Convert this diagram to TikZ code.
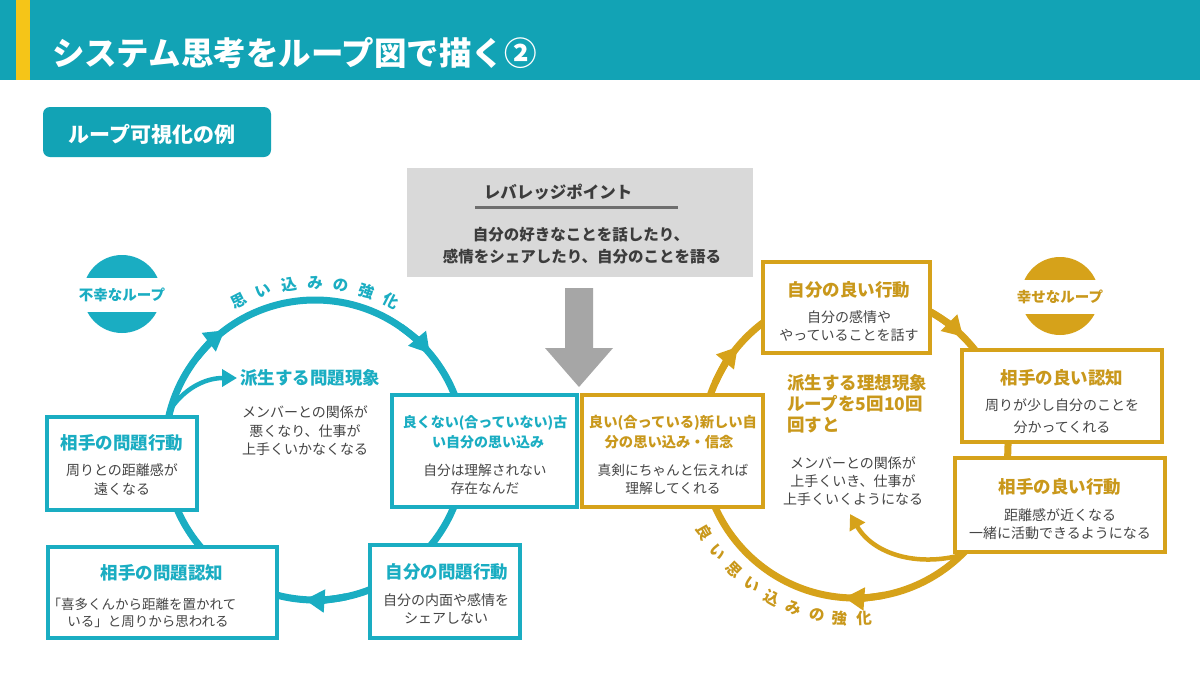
\documentclass[tikz,border=0pt]{standalone}
\usepackage{fontspec}
\setmainfont{Noto Sans CJK JP}
\usetikzlibrary{arrows.meta,calc}
\definecolor{barc}{HTML}{12A3B5}
\definecolor{stripec}{HTML}{F5C518}
\definecolor{tealc}{HTML}{1AADC2}
\definecolor{goldc}{HTML}{D6A21A}
\definecolor{goldt}{HTML}{C9981B}
\definecolor{bodyc}{HTML}{454545}
\definecolor{levg}{HTML}{D9D9D9}
\definecolor{levt}{HTML}{3C3C3C}
\definecolor{levl}{HTML}{6E6E6E}
\definecolor{arrg}{HTML}{A6A6A6}
\newcommand{\myfs}[1]{\fontsize{#1}{#1}\selectfont}
\begin{document}
\begin{tikzpicture}[x=1pt,y=1pt,
  every node/.style={inner sep=0pt,outer sep=0pt},
  tealbox/.style={draw=tealc,line width=4pt,fill=white},
  goldbox/.style={draw=goldc,line width=4pt,fill=white},
  ttitle/.style={text=tealc,font=\bfseries\myfs{17.5}},
  gtitle/.style={text=goldt,font=\bfseries\myfs{17.5}},
  body/.style={text=bodyc,font=\myfs{14}},
  tloop/.style={draw=tealc,line width=7pt},
  gloop/.style={draw=goldc,line width=7pt},
  headtip/.style={-{Triangle[length=20pt,width=22pt]}},
  smalltip/.style={-{Triangle[length=15pt,width=17pt]}},
  arcch/.style={font=\bfseries\myfs{15.5}}
]
\useasboundingbox (0,0) rectangle (1200,-675);
\fill[white] (0,0) rectangle (1200,-675);

% header
\fill[barc] (0,0) rectangle (1200,-80);
\fill[stripec] (16,0) rectangle (30,-80);
\node[anchor=west,text=white,font=\bfseries\myfs{32.5}] (title) at (52,-53) {システム思考をループ図で描く②};
\node[fill=barc,rounded corners=7pt,minimum width=228pt,minimum height=50pt] (sub) at (157,-132) {};
\node[text=white,font=\bfseries\myfs{21}] (subt) at (152,-134) {ループ可視化の例};

% leverage point
\node[fill=levg,minimum width=346pt,minimum height=109pt] (lev) at (580,-222.5) {};
\node[text=levt,font=\bfseries\myfs{16.5}] (levh) at (558,-192) {レバレッジポイント};
\draw[levl,line width=3pt] (475,-207) -- (678,-207);
\node[text=levt,font=\bfseries\myfs{15.5}] (lev1) at (581,-235) {自分の好きなことを話したり、};
\node[text=levt,font=\bfseries\myfs{15.5}] (lev2) at (582,-257) {感情をシェアしたり、自分のことを語る};
\fill[arrg] (565,-288) -- (593,-288) -- (593,-348) -- (613,-348) -- (579,-387) -- (545,-348) -- (565,-348) -- cycle;

% loops
\coordinate (Lc) at (315,-450);
\coordinate (Rc) at (855,-445);
\draw[tloop] (Lc) circle (150);
\draw[tloop,headtip] ($(Lc)+(142:150)$) arc[start angle=142,end angle=127,radius=150];
\draw[tloop,headtip] ($(Lc)+(55:150)$) arc[start angle=55,end angle=40,radius=150];
\draw[tloop,headtip] ($(Lc)+(-78:150)$) arc[start angle=-78,end angle=-94,radius=150];
\draw[gloop] (Rc) circle (153);
\draw[gloop,headtip] ($(Rc)+(156:153)$) arc[start angle=156,end angle=140,radius=153];
\draw[gloop,headtip] ($(Rc)+(60:153)$) arc[start angle=60,end angle=45,radius=153];
\draw[gloop,headtip] ($(Rc)+(-79:153)$) arc[start angle=-79,end angle=-94,radius=153];

% arc labels
\foreach \a/\ch [count=\i] in {117/思,108/い,99/込,90/み,81/の,72/強,63/化}
  \node[arcch,text=tealc,rotate=\a-90] (lt\i) at ($(Lc)+(\a:167)$) {\ch};
\foreach \a/\ch [count=\i] in {210/良,217.9/い,225.8/思,233.6/い,241.5/込,249.4/み,257.3/の,265.1/強,273/化}
  \node[arcch,text=goldt,rotate=\a+90] (rt\i) at ($(Rc)+(\a:174)$) {\ch};

% badges
\coordinate (bl) at (122,-294);
\begin{scope}
  \clip (bl) circle (39);
  \fill[tealc] ($(bl)+(-40,40)$) rectangle ($(bl)+(40,16)$);
  \fill[tealc] ($(bl)+(-40,-18)$) rectangle ($(bl)+(40,-40)$);
\end{scope}
\node[text=tealc,font=\bfseries\myfs{14.5}] (bln) at ($(bl)+(0,-1)$) {不幸なループ};
\coordinate (br) at (1060,-296);
\begin{scope}
  \clip (br) circle (39);
  \fill[goldc] ($(br)+(-40,40)$) rectangle ($(br)+(40,16)$);
  \fill[goldc] ($(br)+(-40,-18)$) rectangle ($(br)+(40,-40)$);
\end{scope}
\node[text=goldt,font=\bfseries\myfs{14.5}] (brn) at ($(br)+(0,-1)$) {幸せなループ};

% derived phenomena
\node[ttitle] (lder) at (310,-378) {派生する問題現象};
\node[body] (ld1) at (305,-412) {メンバーとの関係が};
\node[body] (ld2) at (305,-431) {悪くなり、仕事が};
\node[body] (ld3) at (305,-449) {上手くいかなくなる};
\draw[tealc,line width=4.5pt,smalltip] ($(Lc)+(164:150)$) to[out=55,in=180] ([xshift=-3pt]lder.west);

\node[gtitle,anchor=west] (rder1) at (787,-383) {派生する理想現象};
\node[gtitle,anchor=west] (rder2) at (787,-404) {ループを5回10回};
\node[gtitle,anchor=west] (rder3) at (787,-425) {回すと};
\node[body] (rd1) at (853,-463) {メンバーとの関係が};
\node[body] (rd2) at (853,-481) {上手くいき、仕事が};
\node[body] (rd3) at (853,-499) {上手くいくようになる};
\coordinate (rbe) at (850,-514);
\draw[goldc,line width=4.5pt,smalltip] ($(Rc)+(-46:153)$) to[out=195,in=-60] (rbe);

% left boxes
\node[tealbox,minimum width=150pt,minimum height=93pt] (b1) at (122,-463.5) {};
\node[ttitle] (b1t) at (122,-443) {相手の問題行動};
\node[body] (b1a) at (122,-470) {周りとの距離感が};
\node[body] (b1b) at (122,-489) {遠くなる};

\node[tealbox,minimum width=229pt,minimum height=91pt] (b2) at (162.5,-592.5) {};
\node[ttitle] (b2t) at (162,-573) {相手の問題認知};
\node[body,font=\myfs{13.5}] (b2a) at (142,-604) {「喜多くんから距離を置かれて};
\node[body,font=\myfs{13.5}] (b2b) at (148,-622) {いる」と周りから思われる};

\node[tealbox,minimum width=150pt,minimum height=93pt] (b3) at (445,-591.5) {};
\node[ttitle] (b3t) at (447,-572) {自分の問題行動};
\node[body] (b3a) at (446,-600) {自分の内面や感情を};
\node[body] (b3b) at (446,-618) {シェアしない};

\node[tealbox,minimum width=185pt,minimum height=112pt] (b4) at (484.5,-451) {};
\node[ttitle,font=\bfseries\myfs{14}] (b4t1) at (485,-423) {良くない(合っていない)古};
\node[ttitle,font=\bfseries\myfs{14}] (b4t2) at (488,-442) {い自分の思い込み};
\node[body,font=\myfs{13.7}] (b4a) at (485,-470) {自分は理解されない};
\node[body,font=\myfs{13.7}] (b4b) at (485,-488) {存在なんだ};

% right boxes
\node[goldbox,minimum width=181pt,minimum height=112pt] (b5) at (672.5,-451) {};
\node[gtitle,font=\bfseries\myfs{14.3}] (b5t1) at (673,-423) {良い(合っている)新しい自};
\node[gtitle,font=\bfseries\myfs{14.3}] (b5t2) at (669,-442) {分の思い込み・信念};
\node[body,font=\myfs{13.7}] (b5a) at (673,-470) {真剣にちゃんと伝えれば};
\node[body,font=\myfs{13.7}] (b5b) at (673,-488) {理解してくれる};

\node[goldbox,minimum width=167pt,minimum height=91pt] (b6) at (846.5,-307.5) {};
\node[gtitle] (b6t) at (849,-290) {自分の良い行動};
\node[body] (b6a) at (849,-317) {自分の感情や};
\node[body] (b6b) at (849,-335) {やっていることを話す};

\node[goldbox,minimum width=200pt,minimum height=92pt] (b7) at (1062,-396) {};
\node[gtitle] (b7t) at (1062,-378) {相手の良い認知};
\node[body] (b7a) at (1062,-405) {周りが少し自分のことを};
\node[body] (b7b) at (1062,-427) {分かってくれる};

\node[goldbox,minimum width=210pt,minimum height=94pt] (b8) at (1060,-505) {};
\node[gtitle] (b8t) at (1060,-487) {相手の良い行動};
\node[body] (b8a) at (1060,-515) {距離感が近くなる};
\node[body] (b8b) at (1060,-533) {一緒に活動できるようになる};
\end{tikzpicture}
\end{document}
